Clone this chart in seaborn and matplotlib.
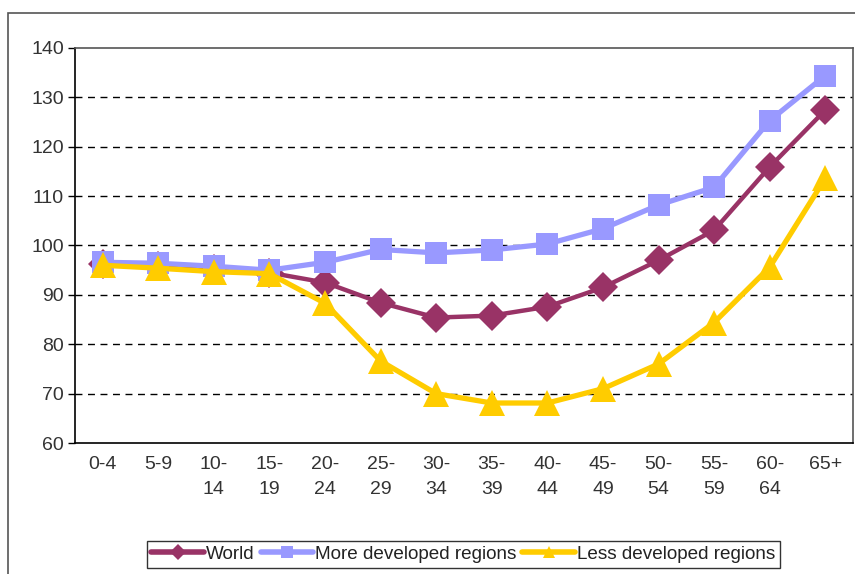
import pandas as pd
import numpy as np
import matplotlib
matplotlib.use("Agg")
import matplotlib.pyplot as plt
import seaborn as sns
from matplotlib.lines import Line2D
from matplotlib.patches import Rectangle

# Data
age_groups = ["0-4", "5-9", "10-\n14", "15-\n19", "20-\n24", "25-\n29", "30-\n34",
              "35-\n39", "40-\n44", "45-\n49", "50-\n54", "55-\n59", "60-\n64", "65+"]
world = [96.3, 95.9, 95.2, 94.5, 92.5, 88.4, 85.4, 85.8, 87.6, 91.5, 97.0, 103.1, 115.9, 127.4]
more_developed = [96.6, 96.4, 95.8, 95.0, 96.6, 99.2, 98.5, 99.1, 100.3, 103.4, 108.2, 111.8, 125.3, 134.4]
less_developed = [96.0, 95.4, 94.7, 94.3, 88.3, 76.6, 70.0, 68.1, 68.1, 71.0, 76.0, 84.4, 95.6, 113.6]

series_names = ["World", "More developed regions", "Less developed regions"]
colors = ["#993366", "#9999FF", "#FFCC00"]
markers = ["D", "s", "^"]
marker_sizes = [15, 16.5, 19]
line_widths = [3.2, 3.8, 3.8]

df = pd.DataFrame({
    "pos": list(range(len(age_groups))) * 3,
    "value": world + more_developed + less_developed,
    "series": np.repeat(series_names, len(age_groups)),
})

sns.set_style("white")
plt.rcParams["font.family"] = ["Liberation Sans", "DejaVu Sans"]

fig = plt.figure(figsize=(8.55, 5.74), dpi=100)
ax = fig.add_axes([0.0877, 0.2282, 0.9100, 0.6882])

# outer chart frame
fig.patches.append(Rectangle((8 / 855, -0.01), 1.0, 1 - 13 / 574 + 0.01,
                             transform=fig.transFigure, fill=False,
                             edgecolor="#555555", linewidth=1.2))

for name, c, m, ms, lw in zip(series_names, colors, markers, marker_sizes, line_widths):
    sub = df[df["series"] == name]
    sns.lineplot(data=sub, x="pos", y="value", ax=ax, color=c, linewidth=lw,
                 marker=m, markersize=ms, markeredgewidth=0, legend=False)

ax.set_xlim(-0.5, len(age_groups) - 0.5)
ax.set_ylim(60, 140)
ax.set_yticks(range(60, 141, 10))
ax.set_xticks(range(len(age_groups)))
ax.set_xticklabels(age_groups, fontsize=14, color="#333333", linespacing=1.65)
ax.set_xticks(np.arange(-0.5, len(age_groups), 1), minor=True)
ax.tick_params(axis="x", which="major", length=0, pad=9)
ax.tick_params(axis="x", which="minor", length=5, width=1, color="black", direction="out")
ax.tick_params(axis="y", length=5, width=1, color="black", direction="out",
               labelsize=14, labelcolor="#333333", left=True, pad=3)
ax.set_xlabel("")
ax.set_ylabel("")

for y in range(70, 140, 10):
    ax.axhline(y, color="black", linestyle=(0, (5, 4)), linewidth=1, zorder=0)

ax.spines["left"].set_color("black")
ax.spines["bottom"].set_color("black")
ax.spines["top"].set_color("#555555")
ax.spines["right"].set_color("#555555")
for s in ax.spines.values():
    s.set_linewidth(1.2)

handles = [Line2D([0], [0], color=c, linewidth=4, marker=m, markersize=8, markeredgewidth=0)
           for c, m in zip(colors, markers)]
leg = fig.legend(handles, series_names, loc="center", bbox_to_anchor=(0.542, 0.034),
                 ncol=3, frameon=True, fancybox=False, fontsize=13.6, handlelength=2.8,
                 handletextpad=0.1, columnspacing=0.3, borderpad=0.25,
                 labelcolor="#222222")
leg.get_frame().set_edgecolor("black")
leg.get_frame().set_linewidth(1)

fig.savefig("out.png", dpi=100)
